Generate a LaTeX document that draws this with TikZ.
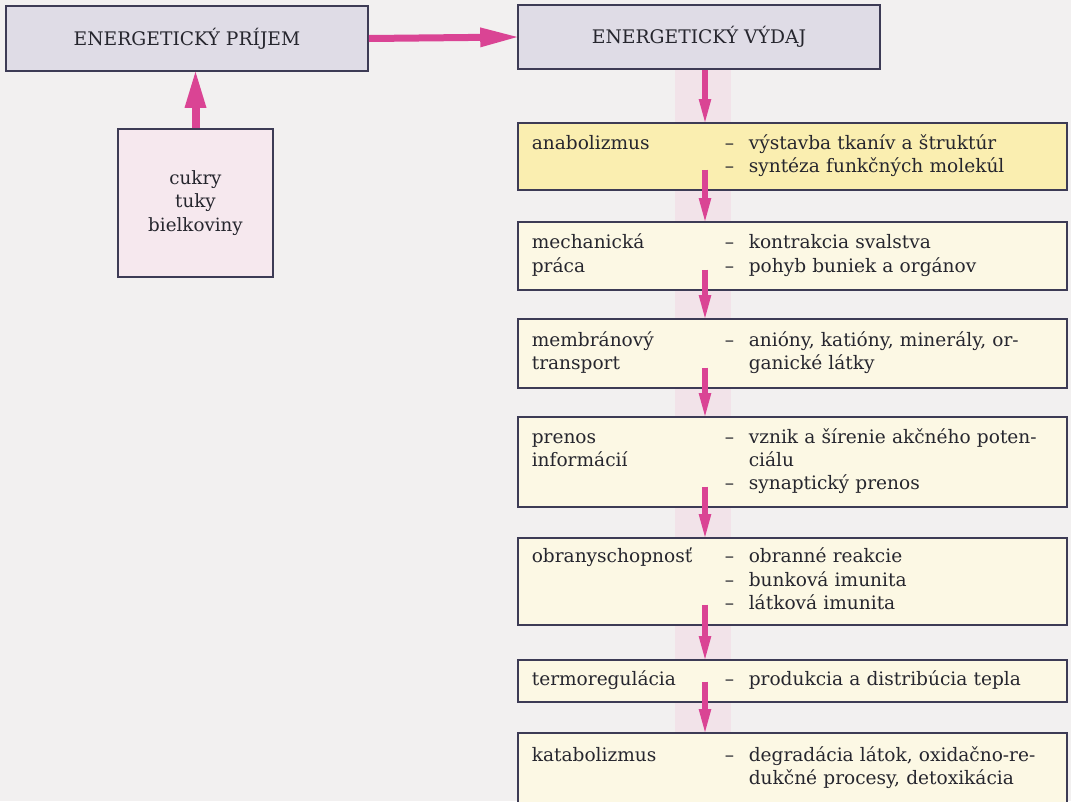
\documentclass[tikz,border=0pt]{standalone}
\usepackage{fontspec}
\setmainfont{DejaVu Serif}
\usetikzlibrary{arrows.meta}

\definecolor{pagebg}{HTML}{F2F0F0}
\definecolor{boxline}{HTML}{3D3B55}
\definecolor{headfill}{HTML}{DFDCE6}
\definecolor{anabfill}{HTML}{FAEEB0}
\definecolor{rowfill}{HTML}{FCF8E4}
\definecolor{srcfill}{HTML}{F6E8EE}
\definecolor{arrowpink}{HTML}{DA4494}
\definecolor{stripfill}{HTML}{F2E3E9}
\definecolor{inktext}{HTML}{26262E}

\tikzset{
  box/.style={draw=boxline, line width=0.4mm, text=inktext, inner sep=0pt},
  headbox/.style={box, fill=headfill, minimum width=90.5mm,
    font=\fontsize{13.3}{16}\selectfont},
  srcbox/.style={box, fill=srcfill, minimum width=38.75mm, minimum height=37mm,
    align=center, font=\fontsize{13}{16.5}\selectfont},
  rowbox/.style={box, fill=rowfill, anchor=north west, inner xsep=3.5mm,
    text width=130.25mm, align=left, font=\fontsize{13.2}{16.7}\selectfont},
  flow/.style={draw=arrowpink, line width=1.5mm,
    -{Triangle[length=5.75mm,width=3.2mm,line width=0pt]}},
  bigflow/.style={flow, line width=1.75mm,
    -{Triangle[length=9.25mm,width=5mm,line width=0pt]}},
  upflow/.style={flow, line width=2mm,
    -{Triangle[length=9mm,width=5.5mm,line width=0pt]}},
}

% columns: activity | dash | what it covers
\newcommand{\rows}[1]{\begin{tabular}{@{}p{48.25mm}@{}p{6mm}@{}l@{}}#1\end{tabular}}

\begin{document}
\begin{tikzpicture}[x=0.25mm, y=-0.25mm]
    % page
    \fill[pagebg] (0,0) rectangle (1071,801);
    \useasboundingbox (0,0) rectangle (1071,801);
    \fill[stripfill] (675,70) rectangle (731,732);

    % intake and expenditure
    \node[headbox, minimum height=16.25mm] (prijem) at (187,38.5) {ENERGETICKÝ PRÍJEM};
    \node[headbox, minimum height=16mm] (vydaj) at (699,37) {ENERGETICKÝ VÝDAJ};
    \node[srcbox] (zdroje) at (195.5,203) {cukry\\tuky\\bielkoviny};

    % what the energy is spent on
    \node[rowbox, fill=anabfill, minimum height=16.75mm] (anab) at (517,122)
      {\rows{anabolizmus & -- & výstavba tkanív a štruktúr\\
                         & -- & syntéza funkčných molekúl}};
    \node[rowbox, minimum height=17mm] (mech) at (517,221)
      {\rows{mechanická & -- & kontrakcia svalstva\\
             práca      & -- & pohyb buniek a orgánov}};
    \node[rowbox, minimum height=17.25mm] (membr) at (517,318)
      {\rows{membránový & -- & anióny, katióny, minerály, or-\\
             transport  &    & ganické látky}};
    \node[rowbox, minimum height=22.5mm] (prenos) at (517,416)
      {\rows{prenos     & -- & vznik a šírenie akčného poten-\\
             informácií &    & ciálu\\
                        & -- & synaptický prenos}};
    \node[rowbox, minimum height=21.75mm] (obrana) at (517,537)
      {\rows{obranyschopnosť & -- & obranné reakcie\\
                             & -- & bunková imunita\\
                             & -- & látková imunita}};
    \node[rowbox, minimum height=10.5mm] (termo) at (517,659)
      {\rows{termoregulácia & -- & produkcia a distribúcia tepla}};
    \node[rowbox, minimum height=17.75mm] (katab) at (517,732)
      {\rows{katabolizmus & -- & degradácia látok, oxidačno-re-\\
                          &    & dukčné procesy, detoxikácia}};

    % arrows
    \coordinate (col) at (705,0);
    \draw[upflow] (zdroje.north) -- (prijem.south -| zdroje.north);
    \draw[bigflow] (prijem.east) -- (vydaj.west);
    \draw[flow] (vydaj.south -| col) -- (anab.north -| col);
    \foreach \a/\b in {anab/mech, mech/membr, membr/prenos, prenos/obrana,
                       obrana/termo, termo/katab}
      \draw[flow] ([yshift=5.25mm]\a.south -| col) -- (\b.north -| col);
\end{tikzpicture}
\end{document}
